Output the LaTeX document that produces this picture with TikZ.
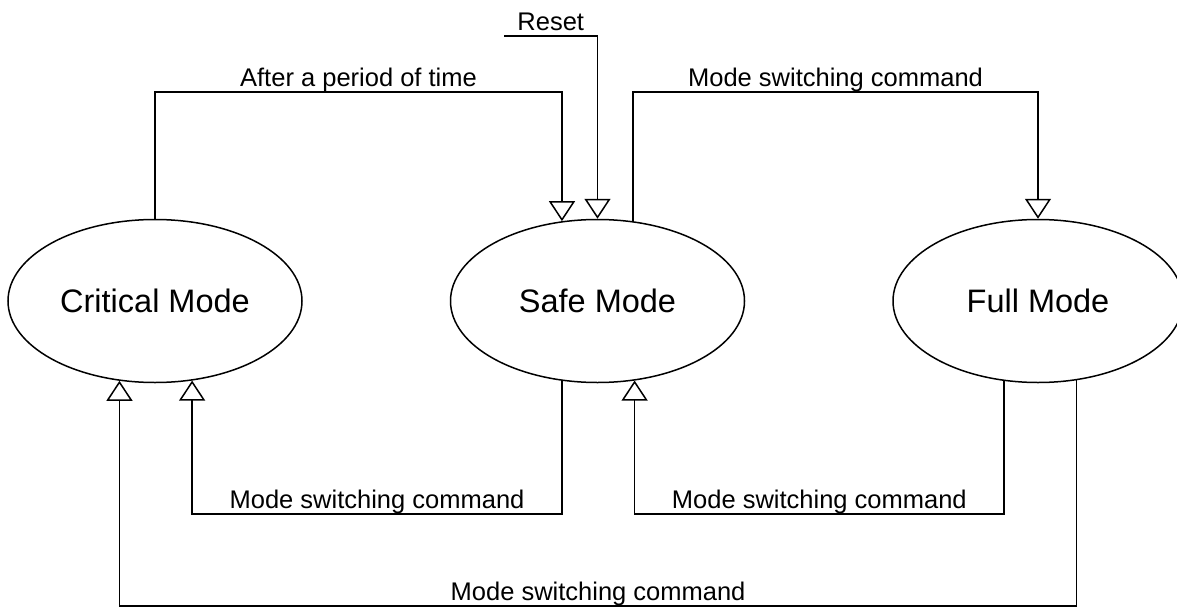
\documentclass[tikz,border=0pt]{standalone}
\usepackage{fontspec}
\setmainfont{Liberation Sans}
\usetikzlibrary{shapes.geometric, arrows.meta, positioning}
\tikzset{
  modebox/.style={
    ellipse, draw, line width=1.5pt,
    minimum width=294pt, minimum height=163pt,
    inner sep=0pt, font=\fontsize{32.5}{38}\selectfont
  },
  cmdlabel/.style={above, inner sep=3pt, text depth=0.22em,
                   font=\fontsize{25.5}{30}\selectfont},
  arrow/.style={-{Triangle[open, length=20pt, width=26pt]}, line width=1.5pt}
}

\begin{document}
\begin{tikzpicture}[x=1pt, y=1pt]
  \useasboundingbox (0,0) rectangle (1177,-607);

  \node[modebox] (crit) at (155,-301) {Critical Mode};
  \node[modebox, right=147pt of crit] (safe) {Safe Mode};
  \node[modebox, right=147pt of safe, minimum width=290pt] (full) {Full Mode};

  \coordinate (top)   at (0,-92);
  \coordinate (rst)   at (504,-36);
  \coordinate (low)   at (0,-514);
  \coordinate (lower) at (0,-606);

  % upper transitions
  \draw[arrow] (crit.north) |- node[cmdlabel, pos=0.75] {After a period of time}
                (safe.114 |- top) -- (safe.114);
  \draw[arrow] (rst) -| node[cmdlabel, pos=0.25] {Reset} (safe.north);
  \draw[arrow] (safe.66) |- node[cmdlabel, pos=0.75] {Mode switching command}
                (full.north |- top) -- (full.north);

  % lower transitions
  \draw[arrow] (safe.-114) |- node[cmdlabel, pos=0.75] {Mode switching command}
                (crit.-65 |- low) -- (crit.-65);
  \draw[arrow] (full.-113) |- node[cmdlabel, pos=0.75] {Mode switching command}
                (safe.-65 |- low) -- (safe.-65);
  \draw[arrow] (full.-64) |- node[cmdlabel, pos=0.75] {Mode switching command}
                (crit.-114 |- lower) -- (crit.-114);

\end{tikzpicture}
\end{document}
